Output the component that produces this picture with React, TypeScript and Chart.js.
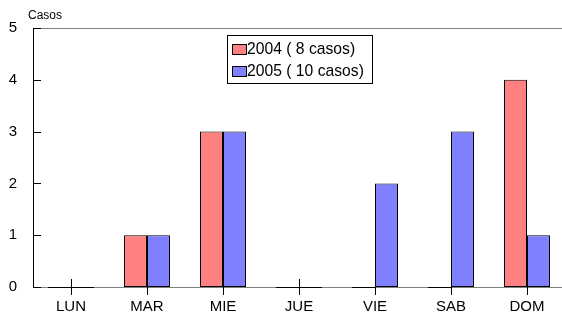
import React, { useEffect, useRef } from "react";
import { Chart, registerables } from "chart.js";

Chart.register(...registerables);

const categories = ["LUN", "MAR", "MIE", "JUE", "VIE", "SAB", "DOM"];
const series2004 = [0, 1, 3, 0, 0, 0, 4];
const series2005 = [0, 1, 3, 0, 2, 3, 1];
const seriesLabels = ["2004 ( 8 casos)", "2005 ( 10 casos)"];
const seriesColors = ["#FF8080", "#8080FF"];
const yTicks = [0, 1, 2, 3, 4, 5];
const yTitle = "Casos";

const FONT = "'Liberation Sans', Arial, sans-serif";

const decorPlugin = {
  id: "decor",
  afterDatasetsDraw(chart: any) {
    const ctx = chart.ctx;
    const area = chart.chartArea;
    const xs = chart.scales.x;
    const ys = chart.scales.y;
    ctx.save();
    // top gray line
    ctx.strokeStyle = "#808080";
    ctx.lineWidth = 1;
    ctx.beginPath();
    ctx.moveTo(area.left, Math.round(area.top) + 0.5);
    ctx.lineTo(area.right, Math.round(area.top) + 0.5);
    ctx.stroke();
    // zero-height bars
    ctx.strokeStyle = "#000";
    chart.data.datasets.forEach((ds: any, di: number) => {
      const meta = chart.getDatasetMeta(di);
      meta.data.forEach((el: any, i: number) => {
        if (ds.data[i] === 0) {
          const y = Math.round(el.base) + 0.5;
          ctx.beginPath();
          ctx.moveTo(el.x - el.width / 2, y);
          ctx.lineTo(el.x + el.width / 2, y);
          ctx.stroke();
        }
      });
    });
    // x ticks crossing the axis
    categories.forEach((_, i) => {
      const x = Math.round(xs.getPixelForValue(i)) + 0.5;
      ctx.beginPath();
      ctx.moveTo(x, area.bottom - 8);
      ctx.lineTo(x, area.bottom + 8);
      ctx.stroke();
    });
    // y ticks inward
    yTicks.forEach((v) => {
      const y = Math.round(ys.getPixelForValue(v)) + 0.5;
      ctx.beginPath();
      ctx.moveTo(area.left, y);
      ctx.lineTo(area.left + 8, y);
      ctx.stroke();
    });
    ctx.restore();
  },
  afterDraw(chart: any) {
    const ctx = chart.ctx;
    ctx.save();
    // axis title
    ctx.fillStyle = "#000";
    ctx.font = `12px ${FONT}`;
    ctx.textAlign = "left";
    ctx.textBaseline = "middle";
    ctx.fillText(yTitle, 28, 16);
    // legend
    const lx = 227.5, ly = 35.5, lw = 145, lh = 48;
    ctx.fillStyle = "#fff";
    ctx.fillRect(lx, ly, lw, lh);
    ctx.strokeStyle = "#000";
    ctx.lineWidth = 1;
    ctx.strokeRect(lx, ly, lw, lh);
    ctx.font = `15.7px ${FONT}`;
    seriesLabels.forEach((lab, i) => {
      const cy = 50 + i * 22;
      ctx.fillStyle = seriesColors[i];
      ctx.fillRect(232.5, cy - 5.5, 14, 10);
      ctx.strokeStyle = "#000";
      ctx.strokeRect(232.5, cy - 5.5, 14, 10);
      ctx.fillStyle = "#000";
      ctx.fillText(lab, 247, cy);
    });
    ctx.restore();
  },
};

export default function App() {
  const ref = useRef<HTMLCanvasElement>(null);
  useEffect(() => {
    document.body.style.margin = "0";
    const chart = new Chart(ref.current!, {
      type: "bar",
      data: {
        labels: categories,
        datasets: [
          {
            label: seriesLabels[0],
            data: series2004,
            backgroundColor: seriesColors[0],
            borderColor: "#000",
            borderWidth: 1,
            borderSkipped: false,
          },
          {
            label: seriesLabels[1],
            data: series2005,
            backgroundColor: seriesColors[1],
            borderColor: "#000",
            borderWidth: 1,
            borderSkipped: false,
          },
        ],
      },
      options: {
        responsive: false,
        animation: false,
        layout: { padding: { top: 28, right: 0, left: 0, bottom: 0 } },
        datasets: { bar: { categoryPercentage: 0.605, barPercentage: 1 } },
        plugins: { legend: { display: false }, tooltip: { enabled: false } },
        scales: {
          x: {
            grid: { display: false, drawTicks: false },
            border: { display: true, color: "#808080", width: 1 },
            ticks: { color: "#000", font: { family: FONT, size: 15 }, padding: 11 },
            afterFit: (s: any) => {
              s.height = 31;
            },
          },
          y: {
            min: 0,
            max: 5,
            grid: { display: false, drawTicks: false },
            border: { display: true, color: "#000", width: 1 },
            ticks: {
              stepSize: 1,
              color: "#000",
              font: { family: FONT, size: 15 },
              padding: 16,
            },
            afterFit: (s: any) => {
              s.width = 33;
            },
          },
        },
      },
      plugins: [decorPlugin],
    });
    return () => chart.destroy();
  }, []);
  return (
    <div style={{ width: 562, height: 318, overflow: "hidden" }}>
      <canvas ref={ref} width={565} height={318} style={{ display: "block" }} />
    </div>
  );
}
